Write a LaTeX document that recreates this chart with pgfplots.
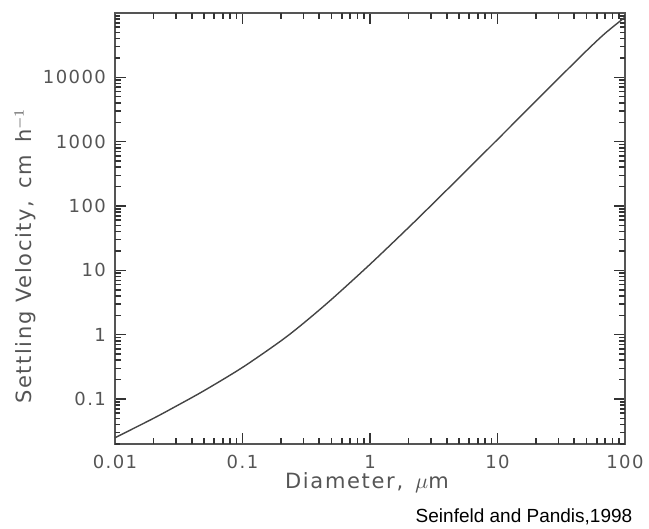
\documentclass[border=0pt]{standalone}
\usepackage{pgfplots}
\pgfplotsset{compat=1.18}
\usepackage{fontspec}
\setmainfont{DejaVu Sans}
\newfontfamily\plotfont[LetterSpace=8]{DejaVu Sans}
\newfontfamily\credfont{Liberation Sans}
\definecolor{ink}{HTML}{555555}

\begin{document}
\begin{tikzpicture}
% picture frame: 649x529 px at 0.5pt per px
\useasboundingbox (-57.5pt,-42.5pt) rectangle (267pt,222pt);
\begin{axis}[
  name=ax,
  at={(0,0)}, anchor=south west,
  scale only axis,
  width=255pt, height=215.5pt,
  xmode=log, ymode=log,
  xmin=0.01, xmax=100,
  ymin=0.02, ymax=1e5,
  xtick={0.01,0.1,1,10,100},
  xticklabels={0.01,0.1,1,10,100},
  ytick={0.1,1,10,100,1000,10000},
  yticklabels={0.1,1,10,100,1000,10000},
  extra x ticks={0.02,0.03,0.04,0.05,0.06,0.07,0.08,0.09,
               0.2,0.3,0.4,0.5,0.6,0.7,0.8,0.9,
               2,3,4,5,6,7,8,9,20,30,40,50,60,70,80,90},
  extra y ticks={0.02,0.03,0.04,0.05,0.06,0.07,0.08,0.09,
               0.2,0.3,0.4,0.5,0.6,0.7,0.8,0.9,
               2,3,4,5,6,7,8,9,20,30,40,50,60,70,80,90,
               200,300,400,500,600,700,800,900,
               2000,3000,4000,5000,6000,7000,8000,9000,
               20000,30000,40000,50000,60000,70000,80000,90000},
  extra x tick labels={}, extra y tick labels={},
  extra tick style={major tick length=2.5pt},
  tick align=inside,
  major tick length=5.5pt,
  tick style={color=ink!60!black, line width=0.8pt},
  axis line style={ink, line width=0.8pt},
  ticklabel style={font=\plotfont\fontsize{9}{9}\selectfont, text=ink},
  xticklabel style={yshift=-2pt},
  yticklabel style={xshift=-1pt},
  clip=false,
]
\addplot[ink!80!black, line width=0.7pt, smooth] table[x=d, y=v] {
d      v
0.01   0.025
0.02   0.050
0.03   0.077
0.05   0.135
0.1    0.31
0.2    0.80
0.3    1.50
0.5    3.55
1      12.4
2      46
3      101
5      275
10     1080
20     4280
30     9550
50     26000
70     48500
100    86000
};
\node[font=\plotfont\fontsize{10.5}{10.5}\selectfont, text=ink]
  at (rel axis cs:0.494,-0.090) {Diameter, \,$\mu$m};
\node[font=\plotfont\fontsize{10.5}{10.5}\selectfont, text=ink, rotate=90]
  at (rel axis cs:-0.176,0.436) {Settling Velocity, \,cm \,h$^{-1}$};
\node[font=\credfont\fontsize{9.5}{9.5}\selectfont, text=black]
  at (rel axis cs:0.802,-0.169) {Seinfeld and Pandis,1998};
\end{axis}
\end{tikzpicture}
\end{document}
